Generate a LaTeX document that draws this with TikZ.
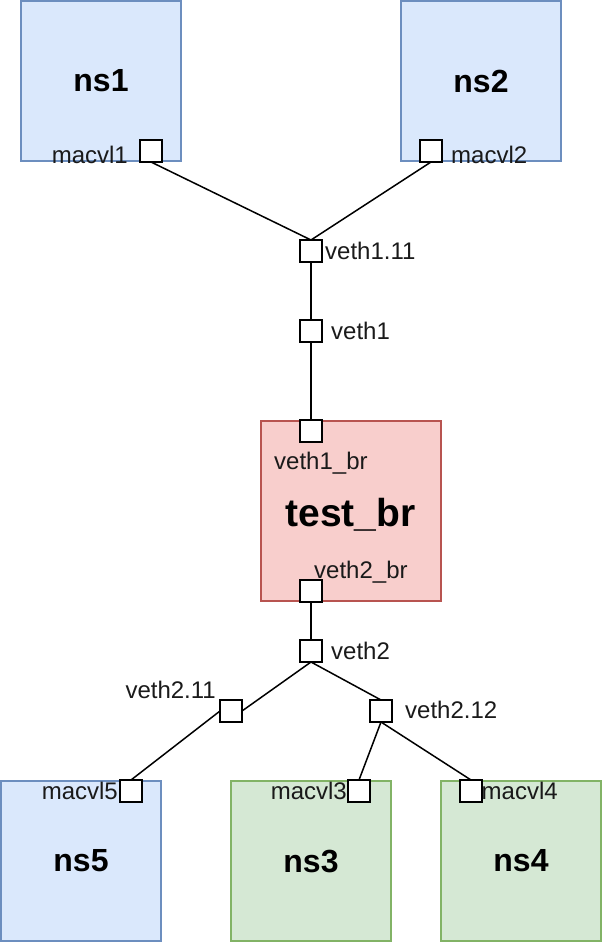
\documentclass[tikz,border=0pt]{standalone}
\usepackage{fontspec}
\setmainfont{Liberation Sans}
\definecolor{bluefill}{HTML}{DAE8FC}
\definecolor{bluedraw}{HTML}{6C8EBF}
\definecolor{greenfill}{HTML}{D5E8D4}
\definecolor{greendraw}{HTML}{82B366}
\definecolor{redfill}{HTML}{F8CECC}
\definecolor{reddraw}{HTML}{B85450}
\definecolor{txt}{HTML}{1A1A1A}
\tikzset{
  nsbox/.style={rectangle, minimum width=160pt, minimum height=160pt, inner sep=0pt, line width=1.3pt,
    font=\fontsize{32}{38}\selectfont\bfseries},
  bluebox/.style={nsbox, fill=bluefill, draw=bluedraw},
  greenbox/.style={nsbox, fill=greenfill, draw=greendraw},
  brbox/.style={rectangle, minimum width=180pt, minimum height=180pt, inner sep=0pt, line width=1.3pt, fill=redfill, draw=reddraw},
  port/.style={rectangle, minimum size=20pt, inner sep=0pt, fill=white, draw=black, line width=2pt},
  lbl/.style={inner sep=0pt, text=txt, font=\fontsize{24}{28}\selectfont},
  link/.style={draw=black, line width=1.5pt},
}
\begin{document}
\begin{tikzpicture}[x=1pt,y=-1pt]
\useasboundingbox (0,0) rectangle (602,942);
% boxes
\node[bluebox] (ns1) at (101,81) {ns1};
\node[bluebox] (ns2) at (481,81) {ns2};
\node[brbox] (br) at (351,511) {};
\node[inner sep=0pt, anchor=base, font=\fontsize{39}{46}\selectfont\bfseries] (brlabel) at (350.5,526) {test\_br};
\node[bluebox] (ns5) at (81,861) {ns5};
\node[greenbox] (ns3) at (311,861) {ns3};
\node[greenbox] (ns4) at (521,861) {ns4};
% ports
\node[port] (pm1) at (151,151) {};
\node[port] (pm2) at (431,151) {};
\node[port] (pv111) at (311,251) {};
\node[port] (pv1) at (311,331) {};
\node[port] (pv1br) at (311,431) {};
\node[port] (pv2br) at (311,591) {};
\node[port] (pv2) at (311,651) {};
\node[port] (pv211) at (231,711) {};
\node[port] (pv212) at (381,711) {};
\node[port] (pm5) at (131,791) {};
\node[port] (pm3) at (359,791) {};
\node[port] (pm4) at (471,791) {};
% connectors
\draw[link] (pm1.south) -- (pv111.north);
\draw[link] (pm2.south) -- (pv111.north);
\draw[link] (pv111.south) -- (pv1.north);
\draw[link] (pv1.south) -- (pv1br.north);
\draw[link] (pv2br.south) -- (pv2.north);
\draw[link] (pv2.south) -- (pv211.east);
\draw[link] (pv2.south) -- (pv212.north);
\draw[link] (pv211.west) -- (pm5.north);
\draw[link] (pv212.south) -- (pm3.north);
\draw[link] (pv212.south) -- (pm4.north);
% redraw ports on top
\foreach \p in {pm1,pm2,pv111,pv1,pv1br,pv2br,pv2,pv211,pv212,pm5,pm3,pm4}{
  \draw[fill=white, line width=2pt] (\p.south west) rectangle (\p.north east);
}
% labels
\node[lbl, anchor=base east] (lm1) at (128,163) {macvl1};
\node[lbl, anchor=base west] (lm2) at (451,163) {macvl2};
\node[lbl, anchor=base west] (lv111) at (325,259) {veth1.11};
\node[lbl, anchor=base west] (lv1) at (331,339) {veth1};
\node[lbl, anchor=base west] (lv1br) at (274,469) {veth1\_br};
\node[lbl, anchor=base west] (lv2br) at (314,578) {veth2\_br};
\node[lbl, anchor=base west] (lv2) at (331,659) {veth2};
\node[lbl, anchor=base east] (lv211) at (216,698.5) {veth2.11};
\node[lbl, anchor=base west] (lv212) at (405,718.5) {veth2.12};
\node[lbl, anchor=base east] (lm5) at (118,799) {macvl5};
\node[lbl, anchor=base east] (lm3) at (347,799) {macvl3};
\node[lbl, anchor=base west] (lm4) at (481.5,799) {macvl4};
\end{tikzpicture}
\end{document}
